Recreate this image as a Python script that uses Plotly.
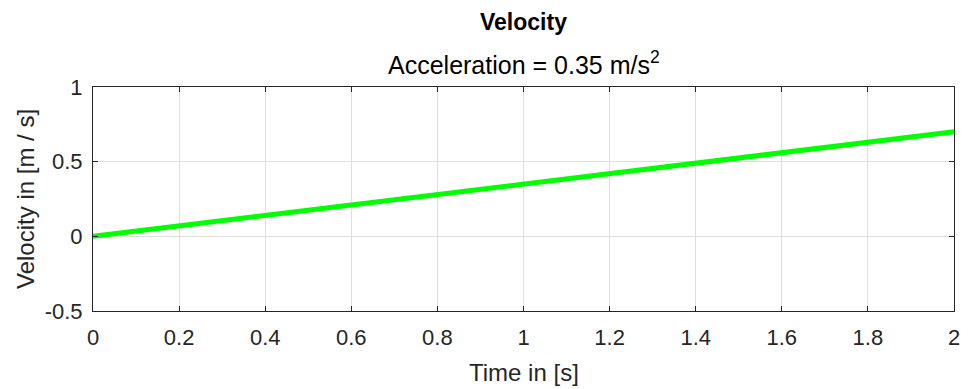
import plotly.graph_objects as go

time_s = [0.0, 2.0]
velocity = [0.0, 0.7]
x_ticks = [0, 0.2, 0.4, 0.6, 0.8, 1, 1.2, 1.4, 1.6, 1.8, 2]
x_tick_text = ["0", "0.2", "0.4", "0.6", "0.8", "1", "1.2", "1.4", "1.6", "1.8", "2"]
y_ticks = [-0.5, 0, 0.5, 1]
y_tick_text = ["-0.5", "0", "0.5", "1"]

FONT = "Liberation Sans, Arial, sans-serif"
AX = "#262626"

fig = go.Figure()
fig.add_trace(go.Scatter(x=time_s, y=velocity, mode="lines",
                         line=dict(color="#00ff00", width=5), showlegend=False))

axis_common = dict(showline=True, linecolor=AX, linewidth=1, mirror="ticks",
                   ticks="inside", ticklen=5, tickcolor=AX, tickwidth=1,
                   showgrid=True, gridcolor="#dfdfdf", gridwidth=1, zeroline=False,
                   tickfont=dict(family=FONT, size=22, color=AX))

fig.update_layout(
    width=972, height=389,
    margin=dict(l=93, r=12, t=87, b=78),
    paper_bgcolor="white", plot_bgcolor="white",
    font=dict(family=FONT, size=22, color=AX),
    xaxis=dict(range=[0, 2], tickvals=x_ticks, ticktext=x_tick_text,
               ticklabelstandoff=7, **axis_common),
    yaxis=dict(range=[-0.5, 1], tickvals=y_ticks, ticktext=y_tick_text,
               ticklabelstandoff=5, **axis_common),
    annotations=[
        dict(text="<b>Velocity</b>", x=0.5, y=1, xref="paper", yref="paper",
             yanchor="middle", yshift=65, showarrow=False,
             font=dict(family=FONT, size=23, color="black")),
        dict(text="Acceleration = 0.35 m/s<sup>2</sup>", x=0.5, y=1, xref="paper", yref="paper",
             yanchor="middle", yshift=24, showarrow=False,
             font=dict(family=FONT, size=25, color="black")),
        dict(text="Time in [s]", x=0.5, y=0, xref="paper", yref="paper",
             yanchor="middle", yshift=-61, showarrow=False,
             font=dict(family=FONT, size=24, color=AX)),
        dict(text="Velocity in [m / s]", x=0, y=0.5, xref="paper", yref="paper",
             xanchor="center", yanchor="middle", xshift=-68, textangle=-90, showarrow=False,
             font=dict(family=FONT, size=24, color=AX)),
    ],
)

fig.write_html("out.html")
